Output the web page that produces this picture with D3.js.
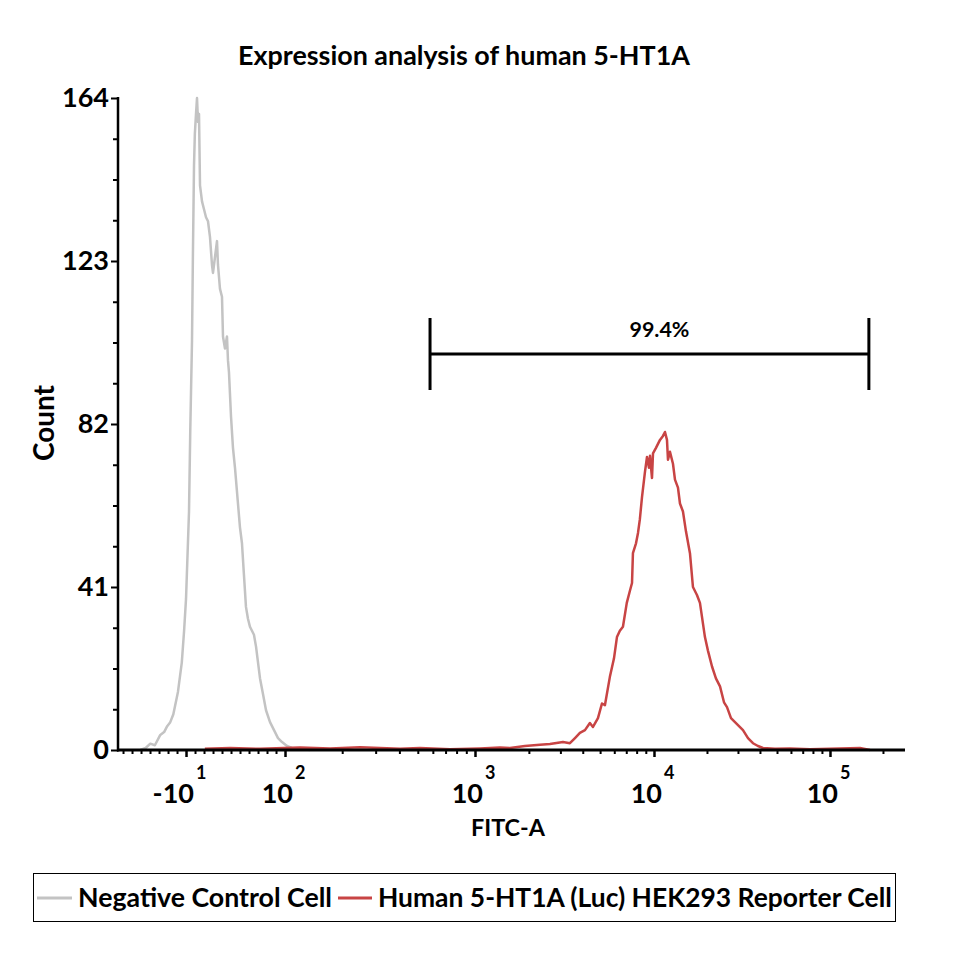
<!DOCTYPE html>
<html>
<head>
<meta charset="utf-8">
<script src="https://cdn.jsdelivr.net/npm/d3@7"></script>
<style>
  html, body { margin: 0; padding: 0; background: #fff; }
  svg { display: block; font-family: Lato, "Open Sans", sans-serif; font-weight: bold; }
</style>
</head>
<body>
<svg id="chart" width="960" height="960"></svg>
<script>
// ---------- DATA (x in display channels 0..1024 of the biexponential FITC-A axis) ----------
const seriesNames = ["Negative Control Cell", "Human 5-HT1A (Luc) HEK293 Reporter Cell"];
const seriesColors = ["#c3c3c3", "#c84444"];

const negativeControl = [
  [29,0],[36,0.5],[42,1.6],[48,1.2],[55,3.8],[60,4.5],[64,6],[68,7],[72,9],[78,14.6],
  [83,22],[86,30],[88.5,38],[92.4,60],[94,80],[96.3,103],[97.5,125],[98.9,147],[100,155],
  [101.5,160],[102.8,164],[104.1,158],[105.4,160],[106.7,142],[109.3,138],[111.9,136],
  [114.5,134],[117.1,133],[119.7,129],[122.3,122],[123.6,120],[126.2,124],[128.8,128],
  [130.1,122],[132.7,116],[135.3,114],[136.6,104],[139.2,101],[141.8,104],[143.1,98],
  [144.4,95],[147,84],[149.6,76],[152.2,71],[156.1,62],[158.7,56],[161.3,52],[163.9,44],
  [166.5,36],[169.1,33],[171.7,31],[174.3,30],[176.9,29],[179.6,26],[182.2,22],[184.8,18],
  [188.7,14],[192.6,10],[197.8,7],[203,5],[208.2,3],[213.4,2],[219.9,1],[226.4,0.5],
  [236.8,0.3],[249.8,0]
];

const reporterCell = [
  [113,0.3],[146,0.5],[185,0.3],[237,0.6],[276,0.4],[315,0.7],[341,0.5],[367,0.3],[393,0.5],
  [432,0.2],[471,0.4],[497,0.6],[510,0.5],[529.5,1.0],[549,1.3],[562,1.5],[579,2],[588,1.7],
  [594.6,3],[601,4.3],[607.6,5],[614,6.8],[618,5.8],[624.5,8],[629.7,11.7],[633.6,11.3],
  [640,18.4],[645.3,23],[649.2,28.4],[653,30],[657,31],[662,37],[666,40],[668.8,42],
  [670,49.5],[674,52],[676.6,54.6],[679,58],[681.8,63.6],[685.7,70],[688.3,73.7],[690.9,71],
  [692.2,74],[694.8,68.4],[696.1,74.6],[700,76],[705.2,78],[709.1,79],[711.7,80],[714.3,78],
  [715.6,73],[718.2,75],[722.1,72],[724.7,68],[728.6,66],[731.2,62],[735.1,60],[739,55],
  [744.2,49.5],[748.1,41],[753.3,39],[757.2,37],[763.7,28.4],[767.6,25],[772.9,21],[778,18],
  [783.3,16],[788.5,12],[792.4,10.8],[797.6,8],[802.8,7],[808,6],[813.2,5],[819.7,3],
  [826.2,1.7],[832.7,1],[839.2,0.5],[854.8,0.3],[874.3,0.4],[900.4,0.2],[965.4,0.5],[978.4,0]
];

// Axis decades: channel position of each labelled decade
const xMajorChannels = [88.5, 217.3, 464.5, 697.4, 926.4];
const xMajorBase = ["-10", "10", "10", "10", "10"];
const xMajorExp = ["1", "2", "3", "4", "5"];
const xLinearTickValues = [-80,-70,-60,-50,-40,-30,-20,0,10,20,30,40,50,60,70,80,90]; // linear region minor ticks
const yMajorTicks = [0, 41, 82, 123, 164];

const gateRange = [406, 977];
const gateLabel = "99.4%";

const titleText = "Expression analysis of human 5-HT1A";
const xLabel = "FITC-A";
const yLabel = "Count";

// ---------- LAYOUT ----------
const svg = d3.select("#chart");
const L = 118, R = 905, T = 98, B = 750;

const x = d3.scaleLinear().domain([0, 1024]).range([L, R]);
const y = d3.scaleLinear().domain([0, 164]).range([B, T]);

function fitFont(sel, target, base) {
  sel.attr("font-size", base);
  const w = sel.node().getComputedTextLength();
  sel.attr("font-size", (base * target / w).toFixed(2));
}

// Title
const title = svg.append("text").attr("x", 464).attr("y", 65).attr("text-anchor", "middle")
  .text(titleText);
fitFont(title, 452, 22);

// Minor x ticks (linear region + log decades)
const ch10 = xMajorChannels[0], ch100 = xMajorChannels[1];
const linCh = v => ch10 + (v + 10) / 110 * (ch100 - ch10);
let xMinor = xLinearTickValues.map(linCh).filter(c => c >= 0);
for (let k = 1; k < xMajorChannels.length; k++) {
  const a = xMajorChannels[k];
  const w = k + 1 < xMajorChannels.length ? xMajorChannels[k + 1] - a : a - xMajorChannels[k - 1];
  for (let m = 2; m <= 9; m++) {
    const c = a + Math.log10(m) * w;
    if (c <= 1024) xMinor.push(c);
  }
}

svg.append("g").attr("transform", `translate(0,${B})`)
  .call(d3.axisBottom(x).tickValues(xMinor).tickSize(4).tickFormat(""))
  .call(g => g.select(".domain").remove())
  .call(g => g.selectAll("line").attr("stroke", "#000").attr("stroke-width", 2));

svg.append("g").attr("transform", `translate(0,${B})`)
  .call(d3.axisBottom(x).tickValues(xMajorChannels).tickSize(7).tickFormat(""))
  .call(g => g.select(".domain").remove())
  .call(g => g.selectAll("line").attr("stroke", "#000").attr("stroke-width", 2.5));

// x tick labels with superscripts
const xl = svg.append("g");
xMajorChannels.forEach((c, i) => {
  const px = x(c);
  xl.append("text").attr("x", px + 8).attr("y", 803).attr("text-anchor", "end")
    .attr("font-size", 27).text(xMajorBase[i]);
  xl.append("text").attr("x", px + 10).attr("y", 779).attr("text-anchor", "start")
    .attr("font-size", 18).text(xMajorExp[i]);
});

// Y axis
const yMinor = d3.range(0, 165, 41 / 4).filter(v => !yMajorTicks.includes(v));
svg.append("g").attr("transform", `translate(${L},0)`)
  .call(d3.axisLeft(y).tickValues(yMinor).tickSize(5).tickFormat(""))
  .call(g => g.select(".domain").remove())
  .call(g => g.selectAll("line").attr("stroke", "#000").attr("stroke-width", 2));

svg.append("g").attr("transform", `translate(${L},0)`)
  .call(d3.axisLeft(y).tickValues(yMajorTicks).tickSize(7).tickPadding(2).tickFormat(d3.format("d")))
  .call(g => g.select(".domain").remove())
  .call(g => g.selectAll("line").attr("stroke", "#000").attr("stroke-width", 2))
  .call(g => g.selectAll("text").attr("fill", "#000").attr("font-size", 27)
    .attr("font-family", "Lato, 'Open Sans', sans-serif").attr("font-weight", "bold"));

// Curves
const line = d3.line().x(d => x(d[0])).y(d => y(d[1]));
[negativeControl, reporterCell].forEach((data, i) => {
  svg.append("path").datum(data).attr("d", line)
    .attr("fill", "none").attr("stroke", seriesColors[i])
    .attr("stroke-width", 2.5).attr("stroke-linejoin", "round");
});

// Axis lines
svg.append("line").attr("x1", L).attr("x2", L).attr("y1", T - 1).attr("y2", B + 1.5)
  .attr("stroke", "#000").attr("stroke-width", 2.5);
svg.append("line").attr("x1", L - 1).attr("x2", R).attr("y1", B).attr("y2", B)
  .attr("stroke", "#000").attr("stroke-width", 3);

// Axis labels
const xlab = svg.append("text").attr("x", 508).attr("y", 836).attr("text-anchor", "middle").text(xLabel);
fitFont(xlab, 74, 22);
const ylab = svg.append("text").attr("transform", "translate(54,423) rotate(-90)")
  .attr("text-anchor", "middle").text(yLabel);
fitFont(ylab, 76, 22);

// Gate
const gy = 354, gTop = 318, gBot = 390;
const gate = svg.append("g").attr("stroke", "#000").attr("stroke-width", 3);
gate.append("line").attr("x1", x(gateRange[0])).attr("x2", x(gateRange[1])).attr("y1", gy).attr("y2", gy);
gateRange.forEach(c => gate.append("line").attr("x1", x(c)).attr("x2", x(c)).attr("y1", gTop).attr("y2", gBot));
const gl = svg.append("text").attr("x", (x(gateRange[0]) + x(gateRange[1])) / 2 + 10).attr("y", 337)
  .attr("text-anchor", "middle").text(gateLabel);
fitFont(gl, 60, 20);

// Legend
const lg = svg.append("g");
lg.append("rect").attr("x", 33.5).attr("y", 873.5).attr("width", 862).attr("height", 48)
  .attr("fill", "#fff").attr("stroke", "#000").attr("stroke-width", 1);
const legendItems = [
  { lx1: 37, lx2: 72, tx: 78, tw: 254 },
  { lx1: 338, lx2: 372, tx: 378, tw: 514 }
];
seriesNames.forEach((name, i) => {
  const it = legendItems[i];
  lg.append("line").attr("x1", it.lx1).attr("x2", it.lx2).attr("y1", 898).attr("y2", 898)
    .attr("stroke", seriesColors[i]).attr("stroke-width", 3);
  const t = lg.append("text").attr("x", it.tx).attr("y", 907).text(name);
  fitFont(t, it.tw, 24);
});
</script>
</body>
</html>
